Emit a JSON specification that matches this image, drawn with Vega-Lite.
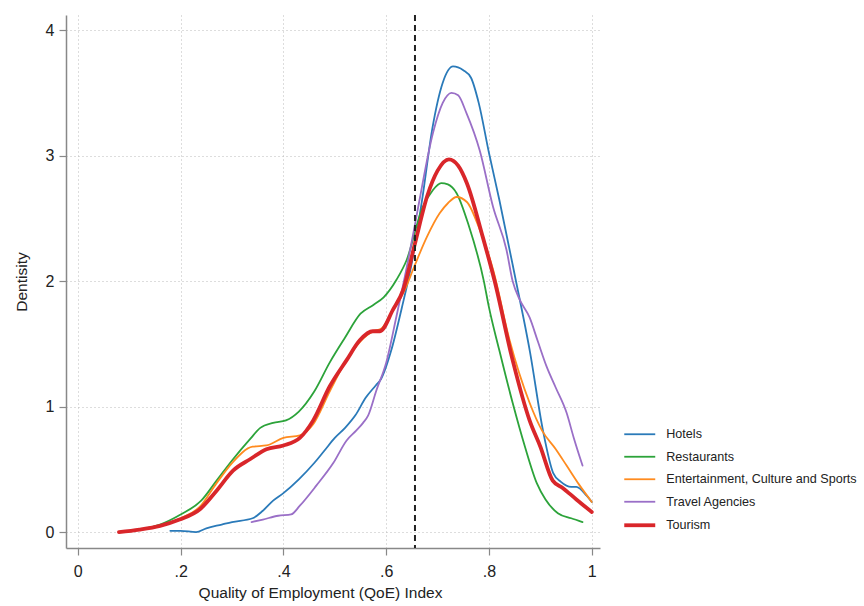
{
  "$schema": "https://vega.github.io/schema/vega-lite/v6.json",
  "width": 534,
  "height": 533,
  "autosize": {"type": "none"},
  "padding": {"left": 66, "top": 15, "right": 264, "bottom": 58},
  "background": "white",
  "config": {
    "view": {"stroke": null},
    "font": "Liberation Sans",
    "axis": {
      "labelFont": "Liberation Sans", "titleFont": "Liberation Sans",
      "labelFontSize": 16, "titleFontSize": 15.5, "titleFontWeight": "normal",
      "labelColor": "#222", "titleColor": "#222",
      "domainColor": "#888", "domainWidth": 1.5,
      "tickColor": "#888", "tickWidth": 1.2, "tickSize": 7,
      "gridColor": "#bbbbbb", "gridDash": [1, 3], "gridWidth": 1
    },
    "legend": {"padding": 0}
  },
  "layer": [
    {
      "data": {"values": [
        {"series":"Hotels","x":0.18,"y":0.01},{"series":"Hotels","x":0.20,"y":0.01},{"series":"Hotels","x":0.23,"y":0.0},{"series":"Hotels","x":0.25,"y":0.03},{"series":"Hotels","x":0.28,"y":0.06},{"series":"Hotels","x":0.30,"y":0.08},{"series":"Hotels","x":0.34,"y":0.11},{"series":"Hotels","x":0.36,"y":0.17},{"series":"Hotels","x":0.38,"y":0.25},{"series":"Hotels","x":0.40,"y":0.31},{"series":"Hotels","x":0.43,"y":0.42},{"series":"Hotels","x":0.46,"y":0.55},{"series":"Hotels","x":0.48,"y":0.65},{"series":"Hotels","x":0.50,"y":0.75},{"series":"Hotels","x":0.52,"y":0.83},{"series":"Hotels","x":0.54,"y":0.93},{"series":"Hotels","x":0.56,"y":1.07},{"series":"Hotels","x":0.58,"y":1.17},{"series":"Hotels","x":0.59,"y":1.22},{"series":"Hotels","x":0.61,"y":1.45},{"series":"Hotels","x":0.63,"y":1.78},{"series":"Hotels","x":0.65,"y":2.15},{"series":"Hotels","x":0.67,"y":2.65},{"series":"Hotels","x":0.69,"y":3.22},{"series":"Hotels","x":0.71,"y":3.58},{"series":"Hotels","x":0.73,"y":3.71},{"series":"Hotels","x":0.75,"y":3.68},{"series":"Hotels","x":0.765,"y":3.62},{"series":"Hotels","x":0.78,"y":3.42},{"series":"Hotels","x":0.80,"y":3.02},{"series":"Hotels","x":0.82,"y":2.65},{"series":"Hotels","x":0.85,"y":2.05},{"series":"Hotels","x":0.88,"y":1.43},{"series":"Hotels","x":0.905,"y":0.81},{"series":"Hotels","x":0.925,"y":0.47},{"series":"Hotels","x":0.94,"y":0.40},{"series":"Hotels","x":0.96,"y":0.36},{"series":"Hotels","x":0.97,"y":0.36},{"series":"Hotels","x":0.99,"y":0.29},{"series":"Hotels","x":1.0,"y":0.24},

        {"series":"Restaurants","x":0.09,"y":0.0},{"series":"Restaurants","x":0.12,"y":0.02},{"series":"Restaurants","x":0.16,"y":0.06},{"series":"Restaurants","x":0.20,"y":0.14},{"series":"Restaurants","x":0.24,"y":0.25},{"series":"Restaurants","x":0.27,"y":0.41},{"series":"Restaurants","x":0.30,"y":0.57},{"series":"Restaurants","x":0.335,"y":0.74},{"series":"Restaurants","x":0.355,"y":0.83},{"series":"Restaurants","x":0.38,"y":0.87},{"series":"Restaurants","x":0.405,"y":0.89},{"series":"Restaurants","x":0.43,"y":0.96},{"series":"Restaurants","x":0.46,"y":1.12},{"series":"Restaurants","x":0.49,"y":1.35},{"series":"Restaurants","x":0.52,"y":1.55},{"series":"Restaurants","x":0.55,"y":1.74},{"series":"Restaurants","x":0.575,"y":1.81},{"series":"Restaurants","x":0.595,"y":1.87},{"series":"Restaurants","x":0.62,"y":2.01},{"series":"Restaurants","x":0.64,"y":2.17},{"series":"Restaurants","x":0.67,"y":2.58},{"series":"Restaurants","x":0.69,"y":2.72},{"series":"Restaurants","x":0.707,"y":2.78},{"series":"Restaurants","x":0.72,"y":2.77},{"series":"Restaurants","x":0.737,"y":2.70},{"series":"Restaurants","x":0.76,"y":2.45},{"series":"Restaurants","x":0.79,"y":2.0},{"series":"Restaurants","x":0.80,"y":1.79},{"series":"Restaurants","x":0.82,"y":1.45},{"series":"Restaurants","x":0.846,"y":1.03},{"series":"Restaurants","x":0.87,"y":0.68},{"series":"Restaurants","x":0.893,"y":0.39},{"series":"Restaurants","x":0.91,"y":0.26},{"series":"Restaurants","x":0.934,"y":0.15},{"series":"Restaurants","x":0.96,"y":0.11},{"series":"Restaurants","x":0.982,"y":0.08},

        {"series":"Entertainment, Culture and Sports","x":0.09,"y":0.0},{"series":"Entertainment, Culture and Sports","x":0.12,"y":0.02},{"series":"Entertainment, Culture and Sports","x":0.16,"y":0.05},{"series":"Entertainment, Culture and Sports","x":0.20,"y":0.11},{"series":"Entertainment, Culture and Sports","x":0.237,"y":0.2},{"series":"Entertainment, Culture and Sports","x":0.27,"y":0.39},{"series":"Entertainment, Culture and Sports","x":0.30,"y":0.55},{"series":"Entertainment, Culture and Sports","x":0.34,"y":0.68},{"series":"Entertainment, Culture and Sports","x":0.367,"y":0.69},{"series":"Entertainment, Culture and Sports","x":0.40,"y":0.75},{"series":"Entertainment, Culture and Sports","x":0.432,"y":0.77},{"series":"Entertainment, Culture and Sports","x":0.458,"y":0.86},{"series":"Entertainment, Culture and Sports","x":0.49,"y":1.12},{"series":"Entertainment, Culture and Sports","x":0.52,"y":1.35},{"series":"Entertainment, Culture and Sports","x":0.55,"y":1.52},{"series":"Entertainment, Culture and Sports","x":0.575,"y":1.60},{"series":"Entertainment, Culture and Sports","x":0.59,"y":1.62},{"series":"Entertainment, Culture and Sports","x":0.615,"y":1.78},{"series":"Entertainment, Culture and Sports","x":0.635,"y":1.92},{"series":"Entertainment, Culture and Sports","x":0.655,"y":2.12},{"series":"Entertainment, Culture and Sports","x":0.679,"y":2.35},{"series":"Entertainment, Culture and Sports","x":0.704,"y":2.54},{"series":"Entertainment, Culture and Sports","x":0.72,"y":2.62},{"series":"Entertainment, Culture and Sports","x":0.737,"y":2.67},{"series":"Entertainment, Culture and Sports","x":0.757,"y":2.63},{"series":"Entertainment, Culture and Sports","x":0.782,"y":2.41},{"series":"Entertainment, Culture and Sports","x":0.808,"y":2.09},{"series":"Entertainment, Culture and Sports","x":0.84,"y":1.53},{"series":"Entertainment, Culture and Sports","x":0.879,"y":1.03},{"series":"Entertainment, Culture and Sports","x":0.903,"y":0.81},{"series":"Entertainment, Culture and Sports","x":0.93,"y":0.66},{"series":"Entertainment, Culture and Sports","x":0.951,"y":0.53},{"series":"Entertainment, Culture and Sports","x":0.975,"y":0.38},{"series":"Entertainment, Culture and Sports","x":1.0,"y":0.24},

        {"series":"Travel Agencies","x":0.338,"y":0.08},{"series":"Travel Agencies","x":0.36,"y":0.10},{"series":"Travel Agencies","x":0.39,"y":0.13},{"series":"Travel Agencies","x":0.415,"y":0.14},{"series":"Travel Agencies","x":0.432,"y":0.21},{"series":"Travel Agencies","x":0.464,"y":0.37},{"series":"Travel Agencies","x":0.497,"y":0.55},{"series":"Travel Agencies","x":0.523,"y":0.73},{"series":"Travel Agencies","x":0.542,"y":0.81},{"series":"Travel Agencies","x":0.555,"y":0.87},{"series":"Travel Agencies","x":0.565,"y":0.93},{"series":"Travel Agencies","x":0.581,"y":1.13},{"series":"Travel Agencies","x":0.60,"y":1.35},{"series":"Travel Agencies","x":0.62,"y":1.72},{"series":"Travel Agencies","x":0.64,"y":2.11},{"series":"Travel Agencies","x":0.656,"y":2.45},{"series":"Travel Agencies","x":0.665,"y":2.65},{"series":"Travel Agencies","x":0.691,"y":3.18},{"series":"Travel Agencies","x":0.71,"y":3.42},{"series":"Travel Agencies","x":0.727,"y":3.50},{"series":"Travel Agencies","x":0.74,"y":3.48},{"series":"Travel Agencies","x":0.756,"y":3.34},{"series":"Travel Agencies","x":0.782,"y":3.04},{"series":"Travel Agencies","x":0.808,"y":2.59},{"series":"Travel Agencies","x":0.834,"y":2.25},{"series":"Travel Agencies","x":0.846,"y":2.0},{"series":"Travel Agencies","x":0.86,"y":1.85},{"series":"Travel Agencies","x":0.879,"y":1.71},{"series":"Travel Agencies","x":0.895,"y":1.52},{"series":"Travel Agencies","x":0.912,"y":1.32},{"series":"Travel Agencies","x":0.93,"y":1.15},{"series":"Travel Agencies","x":0.951,"y":0.95},{"series":"Travel Agencies","x":0.965,"y":0.75},{"series":"Travel Agencies","x":0.982,"y":0.53},

        {"series":"Tourism","x":0.08,"y":0.0},{"series":"Tourism","x":0.12,"y":0.02},{"series":"Tourism","x":0.16,"y":0.05},{"series":"Tourism","x":0.198,"y":0.1},{"series":"Tourism","x":0.237,"y":0.18},{"series":"Tourism","x":0.27,"y":0.33},{"series":"Tourism","x":0.302,"y":0.49},{"series":"Tourism","x":0.335,"y":0.58},{"series":"Tourism","x":0.367,"y":0.66},{"series":"Tourism","x":0.40,"y":0.69},{"series":"Tourism","x":0.432,"y":0.75},{"series":"Tourism","x":0.458,"y":0.89},{"series":"Tourism","x":0.49,"y":1.16},{"series":"Tourism","x":0.523,"y":1.37},{"series":"Tourism","x":0.549,"y":1.53},{"series":"Tourism","x":0.574,"y":1.60},{"series":"Tourism","x":0.588,"y":1.60},{"series":"Tourism","x":0.613,"y":1.77},{"series":"Tourism","x":0.633,"y":1.93},{"series":"Tourism","x":0.656,"y":2.3},{"series":"Tourism","x":0.68,"y":2.68},{"series":"Tourism","x":0.70,"y":2.88},{"series":"Tourism","x":0.722,"y":2.97},{"series":"Tourism","x":0.74,"y":2.92},{"series":"Tourism","x":0.757,"y":2.78},{"series":"Tourism","x":0.788,"y":2.35},{"series":"Tourism","x":0.811,"y":2.0},{"series":"Tourism","x":0.846,"y":1.37},{"series":"Tourism","x":0.879,"y":0.89},{"series":"Tourism","x":0.90,"y":0.68},{"series":"Tourism","x":0.924,"y":0.41},{"series":"Tourism","x":0.944,"y":0.35},{"series":"Tourism","x":0.97,"y":0.26},{"series":"Tourism","x":1.0,"y":0.16}
      ]},
      "mark": {"type": "line", "strokeJoin": "round", "strokeCap": "round", "interpolate": "monotone"},
      "encoding": {
        "x": {
          "field": "x", "type": "quantitative",
          "scale": {"domain": [-0.023, 1.016], "nice": false, "zero": false},
          "axis": {
            "title": "Quality of Employment (QoE) Index",
            "values": [0, 0.2, 0.4, 0.6, 0.8, 1],
            "labelExpr": "datum.value == 0 ? '0' : datum.value == 1 ? '1' : replace(format(datum.value, '.1f'), '0.', '.')",
            "labelPadding": 8, "titlePadding": 6, "titleX": 254
          }
        },
        "y": {
          "field": "y", "type": "quantitative",
          "scale": {"domain": [-0.127, 4.12], "nice": false, "zero": false},
          "axis": {
            "title": "Dentisity",
            "values": [0, 1, 2, 3, 4],
            "labelPadding": 5, "titlePadding": 16
          }
        },
        "color": {
          "field": "series", "type": "nominal", "title": null,
          "scale": {
            "domain": ["Hotels", "Restaurants", "Entertainment, Culture and Sports", "Travel Agencies", "Tourism"],
            "range": ["#2a7ab9", "#2ca33a", "#ff8b1f", "#9a6fc7", "#d9262a"]
          },
          "legend": {
            "orient": "none", "legendX": 563.75, "legendY": 410.25,
            "symbolType": "M-2,0H2", "symbolSize": 240,
            "labelFont": "Liberation Sans", "labelFontSize": 12.6, "labelColor": "#222", "labelLimit": 400,
            "labelOffset": 16.5, "rowPadding": 6.5
          }
        },
        "strokeWidth": {
          "field": "series", "type": "ordinal", "title": null,
          "scale": {
            "type": "ordinal",
            "domain": ["Hotels", "Restaurants", "Entertainment, Culture and Sports", "Travel Agencies", "Tourism"],
            "range": [1.8, 1.8, 1.8, 1.8, 3.8]
          },
          "legend": {
            "orient": "none", "legendX": 563.75, "legendY": 410.25,
            "symbolType": "M-2,0H2", "symbolSize": 240,
            "labelFont": "Liberation Sans", "labelFontSize": 12.6, "labelColor": "#222", "labelLimit": 400,
            "labelOffset": 16.5, "rowPadding": 6.5
          }
        }
      }
    },
    {
      "data": {"values": [{"cut": 0.656}]},
      "mark": {"type": "rule", "color": "#222", "strokeWidth": 2, "strokeDash": [6, 4]},
      "encoding": {"x": {"field": "cut", "type": "quantitative"}}
    }
  ]
}
